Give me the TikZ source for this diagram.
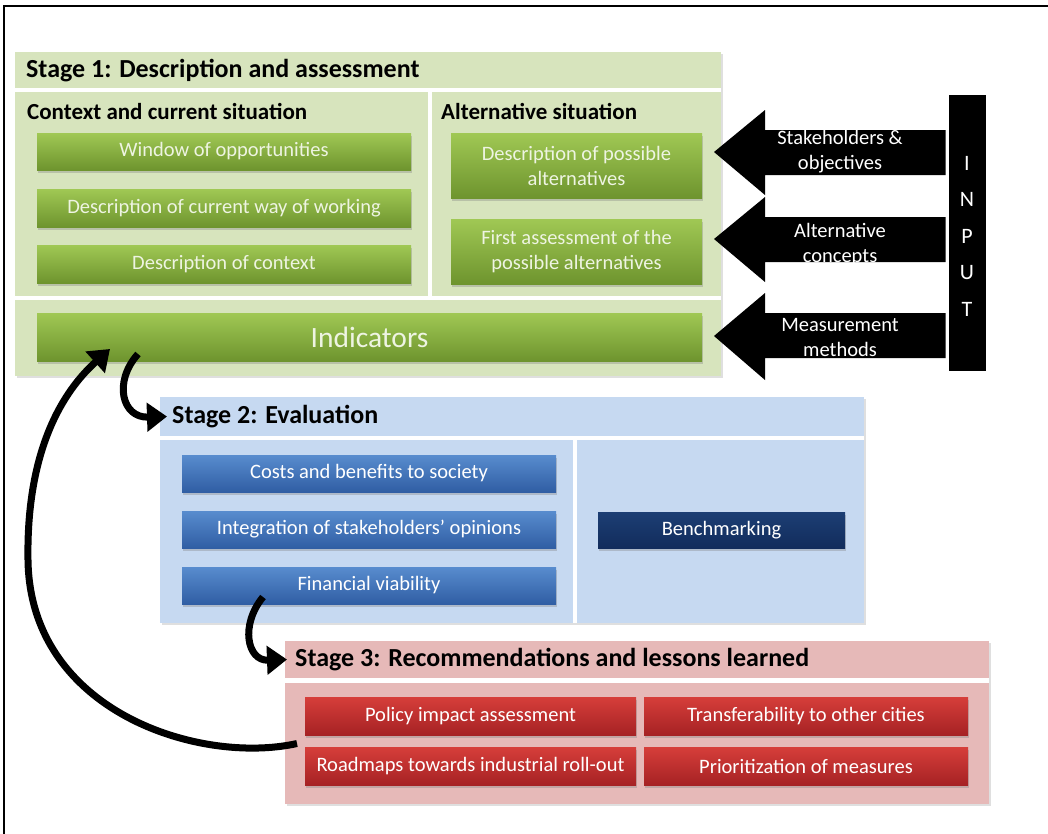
\documentclass[tikz,border=0pt]{standalone}
\usepackage{fontspec}
\setmainfont{Carlito}
\usetikzlibrary{fit,shadows,arrows.meta,calc}

\definecolor{sonebg}{RGB}{215,228,189}
\definecolor{stwobg}{RGB}{198,217,241}
\definecolor{sthreebg}{RGB}{230,185,184}
\definecolor{gtop}{RGB}{160,200,84}
\definecolor{gbot}{RGB}{110,148,46}
\definecolor{gtext}{RGB}{238,244,226}
\definecolor{btop}{RGB}{88,140,206}
\definecolor{bbot}{RGB}{48,94,164}
\definecolor{ntop}{RGB}{28,62,116}
\definecolor{nbot}{RGB}{18,44,92}
\definecolor{rtop}{RGB}{214,62,58}
\definecolor{rbot}{RGB}{166,34,36}

\tikzset{
  stageshadow/.style={fill=white, inner sep=0pt, outer sep=0pt,
    drop shadow={shadow xshift=1.5pt, shadow yshift=-2pt, opacity=0.25}},
  panel/.style={inner sep=0pt, outer sep=0pt},
  panelone/.style={panel, fill=sonebg},
  paneltwo/.style={panel, fill=stwobg},
  panelthree/.style={panel, fill=sthreebg},
  stagetitle/.style={inner sep=0pt, anchor=west, font=\bfseries\fontsize{26}{28}\selectfont},
  subtitle/.style={inner sep=0pt, anchor=west, font=\bfseries\fontsize{23}{25}\selectfont},
  boxbase/.style={inner sep=0pt, outer sep=0pt, align=center,
    drop shadow={shadow xshift=1pt, shadow yshift=-3pt, opacity=0.35},
    font=\fontsize{20.5}{25}\selectfont},
  gbox/.style={boxbase, top color=gtop, bottom color=gbot, text=gtext},
  bbox/.style={boxbase, top color=btop, bottom color=bbot, text=white},
  nbox/.style={boxbase, top color=ntop, bottom color=nbot, text=white},
  rbox/.style={boxbase, top color=rtop, bottom color=rbot, text=white},
  inarrow/.style={fill=black},
  arrowtext/.style={text=white, align=center, inner sep=0pt, font=\fontsize{20.5}{25}\selectfont},
  curv/.style={line width=7pt, black, -{Triangle[length=20pt,width=28pt]}},
}

\begin{document}
\begin{tikzpicture}[x=1pt,y=-1pt]
\useasboundingbox (0,0) rectangle (1048,833);
\draw[line width=1.6pt] (4,845) -- (4,6) -- (1060,6);

% ---------- Stage 1 ----------
\node[stageshadow, fit={(15,52) (721,376)}] (s1) {};
\node[panelone, fit={(15,52) (721,88)}] (s1h) {};
\node[panelone, fit={(15,92) (428,296)}] (s1l) {};
\node[panelone, fit={(432,92) (721,296)}] (s1r) {};
\node[panelone, fit={(15,300) (721,376)}] (s1i) {};
\node[stagetitle] (s1t) at (26,71) {Stage 1: Description and assessment};
\node[subtitle] (ctx) at (27,111) {Context and current situation};
\node[subtitle] (alt) at (441,111) {Alternative situation};

\node[gbox, minimum width=374pt, minimum height=37pt] (win) at (224,151.5) {Window of opportunities};
\node[gbox, minimum width=374pt, minimum height=38pt] (cur) at (224,208) {Description of current way of working};
\node[gbox, minimum width=374pt, minimum height=38pt] (con) at (224,264) {Description of context};
\node[gbox, minimum width=251pt, minimum height=65pt] (alta) at (576.5,165.5) {Description of possible\\alternatives};
\node[gbox, minimum width=251pt, minimum height=65pt] (altb) at (576.5,251.5) {First assessment of the\\possible alternatives};
\node[gbox, minimum width=665pt, minimum height=48pt, font=\fontsize{29.5}{32}\selectfont] (ind) at (369.5,337) {Indicators};

% ---------- INPUT ----------
\node[fill=black, draw=white, line width=3pt, inner sep=0pt,
      drop shadow={shadow xshift=1pt, shadow yshift=-2pt, opacity=0.3},
      fit={(947,93) (987,372)}] (input) {};
\node[text=white, align=center, inner sep=0pt, font=\fontsize{22}{36.5}\selectfont] (inputtxt) at (967,236) {I\\N\\P\\U\\T};

\coordinate (tipa) at (714,152);
\coordinate (tipb) at (714,239);
\coordinate (tipc) at (714,336);
\fill[inarrow] (tipa) -- ++(51,-42) -- ++(0,20) -- ($(input.west |- tipa)+(0,-22)$) -- ($(input.west |- tipa)+(0,23)$) -- ($(tipa)+(51,23)$) -- ++(0,20) -- cycle;
\fill[inarrow] (tipb) -- ++(51,-42) -- ++(0,20) -- ($(input.west |- tipb)+(0,-22)$) -- ($(input.west |- tipb)+(0,23)$) -- ($(tipb)+(51,23)$) -- ++(0,20) -- cycle;
\fill[inarrow] (tipc) -- ++(51,-43) -- ++(0,20) -- ($(input.west |- tipc)+(0,-23)$) -- ($(input.west |- tipc)+(0,22)$) -- ($(tipc)+(51,22)$) -- ++(0,22) -- cycle;
\node[arrowtext] (ta) at (840,152) {Stakeholders \&\\objectives};
\node[arrowtext] (tb) at (840,245) {Alternative\\concepts};
\node[arrowtext] (tc) at (840,337) {Measurement\\methods};

% ---------- Stage 2 ----------
\node[stageshadow, fit={(160,397) (864,623)}] (s2) {};
\node[paneltwo, fit={(160,397) (864,436)}] (s2h) {};
\node[paneltwo, fit={(160,440) (573,623)}] (s2l) {};
\node[paneltwo, fit={(577,440) (864,623)}] (s2r) {};
\node[stagetitle] (s2t) at (172,417) {Stage 2: Evaluation};
\node[bbox, minimum width=374pt, minimum height=37pt] (cost) at (369,473.5) {Costs and benefits to society};
\node[bbox, minimum width=374pt, minimum height=37pt] (integ) at (369,529.5) {Integration of stakeholders’ opinions};
\node[bbox, minimum width=374pt, minimum height=37pt] (fin) at (369,585.5) {Financial viability};
\node[nbox, minimum width=247pt, minimum height=36pt] (bench) at (721.5,530) {Benchmarking};

% ---------- Stage 3 ----------
\node[stageshadow, fit={(285,641) (989,804)}] (s3) {};
\node[panelthree, fit={(285,641) (989,678)}] (s3h) {};
\node[panelthree, fit={(285,683) (989,804)}] (s3b) {};
\node[stagetitle] (s3t) at (295,660) {Stage 3: Recommendations and lessons learned};
\node[rbox, minimum width=331pt, minimum height=38pt] (pol) at (470.5,716) {Policy impact assessment};
\node[rbox, minimum width=324pt, minimum height=38pt] (tra) at (806,716) {Transferability to other cities};
\node[rbox, minimum width=331pt, minimum height=38pt] (road) at (470.5,766) {Roadmaps towards industrial roll-out};
\node[rbox, minimum width=324pt, minimum height=38pt] (prio) at (806,766) {Prioritization of measures};

% ---------- curved connectors ----------
\draw[curv] ([xshift=101pt,yshift=7pt]ind.south west) .. controls (113,382) and (122,418) .. ([xshift=7pt]s2h.west);
\draw[curv] ([xshift=81pt,yshift=7pt]fin.south west) .. controls (240,625) and (247,661) .. ([xshift=2pt]s3h.west);
\draw[curv] ([xshift=12pt]s3b.west) .. controls (200,765) and (30,712) .. (28,560) .. controls (26,440) and (70,385) .. ([xshift=73pt,yshift=12pt]ind.south west);
\end{tikzpicture}
\end{document}
